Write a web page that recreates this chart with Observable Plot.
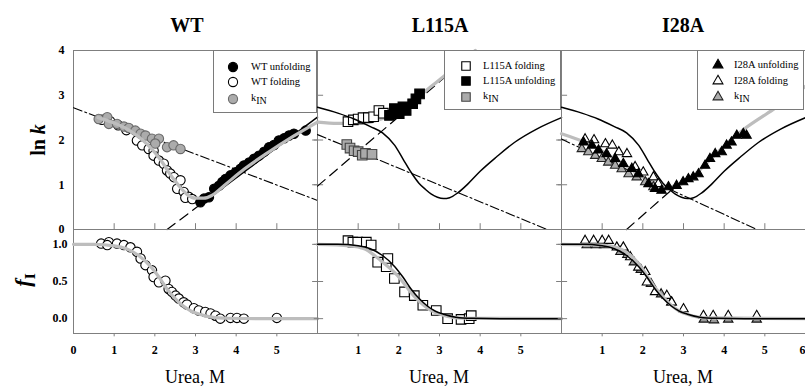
<!DOCTYPE html>
<html><head><meta charset="utf-8">
<script src="https://cdn.jsdelivr.net/npm/d3@7"></script>
<script src="https://cdn.jsdelivr.net/npm/@observablehq/plot@0.6"></script>
<style>
body{margin:0;background:#fff;}
#chart{position:relative;width:805px;height:386px;overflow:hidden;font-family:"Liberation Serif","Times New Roman",serif;color:#000;}
#chart svg{position:absolute;left:0;top:0;}
.lbl{position:absolute;transform:translate(-50%,-50%);white-space:nowrap;line-height:1;}
.rot{transform:translate(-50%,-50%) rotate(-90deg);}
.legend{position:absolute;background:#fff;border:1px solid #7a7a7a;box-sizing:border-box;}
.legend .txt{position:absolute;font-size:10.5px;line-height:1;transform:translateY(-50%);white-space:nowrap;}
.legend svg{position:absolute;overflow:visible;}
</style></head><body><div id="chart"></div>
<script>
// ---------------- data ----------------
const xTicksAll = [0, 1, 2, 3, 4, 5, 6];
const lnkTicks = [0, 1, 2, 3, 4];
const fiTicks = [0, 0.5, 1];
const panelTitles = ["WT", "L115A", "I28A"];

// WT (panel 1)
const wtUnfU   = [3.12,3.21,3.33,3.46,3.58,3.66,3.74,3.86,3.99,4.11,4.19,4.32,4.44,4.56,4.69,4.81,4.93,5.05,5.18,5.30,5.42,5.71];
const wtUnfLnk = [0.61,0.69,0.72,0.91,0.98,1.06,1.13,1.21,1.28,1.36,1.43,1.50,1.58,1.65,1.74,1.84,1.89,1.99,2.04,2.10,2.14,2.21];
const wtFoldU   = [0.70,0.90,1.10,1.30,1.56,1.69,1.85,1.97,1.97,2.10,2.22,2.30,2.38,2.47,2.63,2.55,2.71,2.83,2.75,2.92];
const wtFoldLnk = [2.45,2.42,2.33,2.22,1.99,1.88,1.80,1.76,1.65,1.54,1.47,1.32,1.25,1.17,1.10,0.91,0.84,0.73,0.71,0.68];
const wtKinU   = [0.62,0.83,0.87,1.07,1.24,1.36,1.52,1.65,1.77,1.93,2.10,2.01,2.30,2.46,2.63];
const wtKinLnk = [2.47,2.51,2.36,2.36,2.30,2.27,2.21,2.14,2.10,2.03,2.03,1.92,1.84,1.88,1.80];
const wtKinLineU = [0, 6], wtKinLineLnk = [2.72, 0.65];
const wtArmU = [2.3, 3.3, 6.0], wtArmLnk = [0, 0.68, 2.51];
const wtGrayU   = [0.6,1.0,1.4,1.7,2.0,2.2,2.4,2.6,2.8,3.0,3.2,3.4,3.7,4.2,4.8,5.4,6.0];
const wtGrayLnk = [2.5,2.38,2.2,2.0,1.72,1.48,1.2,0.97,0.78,0.70,0.70,0.76,0.98,1.35,1.73,2.08,2.40];
const wtFitU   = [0,0.5,0.9,1.3,1.6,1.9,2.1,2.3,2.5,2.65,2.8,2.95,3.1,3.25,3.45,3.7,4.0,4.4,4.85,5.4,6.0];
const wtFitLnk = [2.73,2.6,2.47,2.3,2.16,1.88,1.58,1.28,1.03,0.9,0.79,0.72,0.69,0.71,0.82,1.02,1.30,1.62,1.95,2.25,2.5];
const wtFiU   = [0.68,0.87,0.83,1.07,1.24,1.40,1.56,1.65,1.77,1.93,1.97,2.10,2.26,2.34,2.42,2.51,2.59,2.71,2.79,2.96,3.08,3.24,3.37,3.49,3.61,3.86,4.02,4.19,5.00];
const wtFiVal = [1.01,1.03,0.99,1.01,0.99,0.96,0.90,0.81,0.72,0.65,0.56,0.49,0.51,0.40,0.36,0.31,0.27,0.22,0.19,0.14,0.11,0.09,0.07,0.04,0.00,0.01,0.01,0.00,0.01];
const wtFCurveU = [0,0.5,1.0,1.3,1.6,1.9,2.1,2.3,2.5,2.7,2.9,3.1,3.4,3.8,4.5,6];
const wtFCurveF = [1.0,1.0,0.98,0.94,0.85,0.70,0.56,0.40,0.27,0.17,0.10,0.06,0.02,0.005,0,0];

// L115A (panel 2)
const lFoldU   = [0.75,0.88,1.0,1.12,1.25,1.38,1.51,1.62];
const lFoldLnk = [2.41,2.45,2.47,2.50,2.50,2.52,2.66,2.60];
const lUnfU   = [1.77,1.89,2.01,2.10,2.18,2.34,2.42,2.51];
const lUnfLnk = [2.55,2.70,2.59,2.74,2.66,2.81,2.92,3.03];
const lKinU   = [0.72,0.80,0.90,1.00,1.10,1.18,1.34];
const lKinLnk = [1.90,1.82,1.76,1.74,1.66,1.70,1.68];
const lKinLineU = [0, 5.65], lKinLineLnk = [2.12, 0];
const lArmU = [0, 3.9], lArmLnk = [0.97, 4.0];
const lFitU   = [0,0.5,1.0,1.3,1.6,1.9,2.2,2.5,2.8,3.1,3.5,3.88];
const lFitLnk = [2.40,2.37,2.37,2.40,2.48,2.58,2.76,2.98,3.2,3.42,3.71,4.0];
const lFiU   = [0.75,0.87,0.99,1.20,1.32,1.48,1.69,1.73,1.89,2.14,2.38,2.59,2.92,3.20,3.53,3.73,3.78];
const lFiVal = [1.05,1.03,1.03,1.03,0.99,0.76,0.70,0.81,0.54,0.36,0.31,0.18,0.11,0.0,-0.01,0.0,0.04];
const lFCurveU = [0,0.8,1.15,1.56,1.97,2.38,2.79,3.2,3.6,6];
const lFCurveF = [1.0,0.98,0.94,0.78,0.58,0.30,0.11,0.03,0.005,0];

// I28A (panel 3)
const iUnfU   = [0.54,0.75,0.91,1.11,1.32,1.52,1.73,1.89,2.14,2.30,2.46,2.63,2.83,2.99,3.12,3.24,3.37,3.53,3.65,3.78,3.94,4.06,4.18,4.31,4.47,4.55];
const iUnfLnk = [1.95,1.88,1.77,1.69,1.58,1.47,1.36,1.24,1.02,0.91,0.87,0.95,0.98,1.06,1.13,1.17,1.24,1.43,1.58,1.69,1.73,1.88,1.95,2.10,2.14,2.10];
const iFoldU   = [0.58,0.80,1.08,1.25,1.41,1.61,1.81,2.01,2.26,2.38];
const iFoldLnk = [2.02,2.0,1.91,1.88,1.73,1.69,1.40,1.28,1.17,1.02];
const iKinU   = [0.50,0.66,0.83,0.99,1.15,1.32,1.48,1.65,1.85,2.06,2.26];
const iKinLnk = [1.80,1.73,1.65,1.58,1.50,1.43,1.35,1.24,1.17,1.06,0.95];
const iKinLineU = [0, 4.8], iKinLineLnk = [2.02, 0];
const iArmU = [1.6, 2.7], iArmLnk = [0, 0.88];
const iFitU   = [0,0.75,1.55,2.2,2.55,2.85,3.1,3.4,3.7,4.0,4.5,5.2,6.0];
const iFitLnk = [2.14,1.88,1.44,1.07,0.95,0.98,1.1,1.33,1.6,1.87,2.25,2.68,3.2];
const iFiU   = [0.58,0.79,1.0,1.16,1.36,1.52,1.69,1.89,2.06,2.10,2.30,2.59,2.71,3.0,3.49,3.73,4.10,4.80];
const iFiVal = [1.05,1.05,1.05,1.05,0.96,0.96,0.83,0.69,0.63,0.49,0.36,0.31,0.22,0.13,0.04,0.04,0.04,0.04];
const iFi2U   = [0.62,0.85,1.05,1.45,1.62,1.78,1.95,2.2,2.45,2.7,3.5,3.75,4.1,4.8];
const iFi2Val = [0.99,0.99,0.99,0.90,0.86,0.76,0.66,0.47,0.33,0.22,-0.01,-0.02,-0.01,-0.01];
const iFCurveU = [0,1.0,1.4,1.7,1.9,2.1,2.3,2.5,2.7,2.9,3.2,3.6,6];
const iFCurveF = [1,0.99,0.95,0.85,0.74,0.58,0.42,0.29,0.18,0.10,0.04,0.01,0];

// ---------------- layout ----------------
const W = 805, H = 386;
const colX = [[73, 317], [317, 561], [561, 805]];
const rowY = [[50, 229], [229, 333]];
const FRAME = "#7f7f7f", GRAYLINE = "#bdbdbd", GRAYFILL = "#ababab";
const pts = (us, vs) => us.map((u, i) => ({u, v: vs[i]}));

function panel(col, row, marks) {
  const [x0, x1] = colX[col], [y0, y1] = rowY[row];
  return Plot.plot({
    width: W, height: H,
    marginLeft: x0, marginRight: W - x1, marginTop: y0, marginBottom: H - y1,
    x: {domain: [0, 6], axis: null},
    y: {domain: row === 0 ? [0, 4] : [-0.2, 1.2], axis: null},
    style: {background: "transparent", overflow: "visible", fontFamily: "Liberation Serif, serif", fontSize: "12px", color: "#000"},
    marks: [Plot.frame({stroke: FRAME}), ...marks]
  });
}
const line = (us, vs, o) => Plot.line(pts(us, vs), {x: "u", y: "v", curve: "monotone-x", ...o});
const dots = (us, vs, o) => Plot.dot(pts(us, vs), {x: "u", y: "v", strokeWidth: 1.1, ...o});
const blackLine = {stroke: "#000", strokeWidth: 1.5};
const grayLine = {stroke: GRAYLINE, strokeWidth: 3.2};
const dashDot = {stroke: "#000", strokeWidth: 1.1, strokeDasharray: "9,3,2,3", curve: "linear"};
const dashed = {stroke: "#000", strokeWidth: 1.2, strokeDasharray: "10,6", curve: "linear"};
const tickCol = {stroke: FRAME};
const upTicks = Plot.ruleX(xTicksAll.slice(1, 6), {y1: 0, y2: 0.13, ...tickCol});
const rightTicksTop = Plot.ruleY(lnkTicks.slice(1, 4), {x1: 5.88, x2: 6, ...tickCol});
const leftTicksTop = Plot.ruleY(lnkTicks.slice(1, 4), {x1: -0.08, x2: 0.15, ...tickCol});
const rightTicksBot = Plot.ruleY(fiTicks, {x1: 5.88, x2: 6, ...tickCol});
const leftTicksBot = Plot.ruleY(fiTicks, {x1: -0.08, x2: 0.15, ...tickCol});
const downTicks = (t) => Plot.ruleX(t, {y1: -0.2, y2: -0.245, ...tickCol});
const xLabels = (t, o = {}) => Plot.axisX(t, {anchor: "bottom", tickSize: 0, tickPadding: 12, fontWeight: "bold", fontSize: 12, label: null, ...o});

const chart = document.getElementById("chart");
const plots = [
  // top row
  panel(0, 0, [
    Plot.axisY(lnkTicks, {anchor: "left", tickSize: 0, tickPadding: 9, fontWeight: "bold", fontSize: 12, label: null}),
    rightTicksTop, upTicks,
    line(wtKinLineU, wtKinLineLnk, dashDot),
    line(wtArmU.slice(0, 2), wtArmLnk.slice(0, 2), dashed),
    line(wtArmU.slice(1), wtArmLnk.slice(1), {...blackLine, curve: "linear"}),
    dots(wtFoldU, wtFoldLnk, {r: 4.7, fill: "#fff", stroke: "#000"}),
    dots(wtUnfU, wtUnfLnk, {r: 4.7, fill: "#000", stroke: "#000"}),
    dots(wtKinU, wtKinLnk, {r: 4.7, fill: GRAYFILL, stroke: "#6a6a6a"}),
    line(wtGrayU, wtGrayLnk, grayLine)
  ]),
  panel(1, 0, [
    leftTicksTop, rightTicksTop, upTicks,
    line(lKinLineU, lKinLineLnk, dashDot),
    line(lArmU, lArmLnk, dashed),
    line(lFitU, lFitLnk, grayLine),
    dots(lKinU, lKinLnk, {symbol: "square", r: 5.4, fill: GRAYFILL, stroke: "#444"}),
    dots(lFoldU, lFoldLnk, {symbol: "square", r: 5.4, fill: "#fff", stroke: "#000"}),
    dots(lUnfU, lUnfLnk, {symbol: "square", r: 5.4, fill: "#000", stroke: "#000"}),
    line(wtFitU, wtFitLnk, blackLine)
  ]),
  panel(2, 0, [
    leftTicksTop, upTicks,
    line(iKinLineU, iKinLineLnk, dashDot),
    line(iArmU, iArmLnk, dashed),
    line(iFitU, iFitLnk, grayLine),
    dots(iKinU, iKinLnk, {symbol: "triangle", r: 3.5, fill: GRAYFILL, stroke: "#222"}),
    dots(iFoldU, iFoldLnk, {symbol: "triangle", r: 3.5, fill: "#fff", stroke: "#000"}),
    dots(iUnfU, iUnfLnk, {symbol: "triangle", r: 3.5, fill: "#000", stroke: "#000"}),
    line(wtFitU, wtFitLnk, blackLine)
  ]),
  // bottom row
  panel(0, 1, [
    Plot.axisY(fiTicks, {anchor: "left", tickSize: 0, tickPadding: 6, fontWeight: "bold", fontSize: 12, label: null, tickFormat: d3.format(".1f")}),
    rightTicksBot, downTicks(xTicksAll.slice(1, 6)), xLabels(xTicksAll.slice(0, 6)),
    dots(wtFiU, wtFiVal, {r: 4.7, fill: "#fff", stroke: "#000"}),
    line(wtFCurveU, wtFCurveF, grayLine)
  ]),
  panel(1, 1, [
    leftTicksBot, rightTicksBot, downTicks(xTicksAll.slice(1, 6)), xLabels(xTicksAll.slice(1, 6)),
    dots(lFiU, lFiVal, {symbol: "square", r: 5.4, fill: "#fff", stroke: "#000"}),
    line(lFCurveU, lFCurveF, grayLine),
    line(wtFCurveU, wtFCurveF, blackLine)
  ]),
  panel(2, 1, [
    leftTicksBot, downTicks(xTicksAll.slice(1, 6)), xLabels(xTicksAll.slice(1, 6)),
    xLabels(xTicksAll.slice(6), {textAnchor: "end", dx: 0}),
    dots(iFi2U, iFi2Val, {symbol: "triangle", r: 3.5, fill: "#999", stroke: "#111"}),
    dots(iFiU, iFiVal, {symbol: "triangle", r: 3.5, fill: "#fff", stroke: "#000"}),
    line(iFCurveU, iFCurveF, grayLine),
    line(wtFCurveU, wtFCurveF, blackLine)
  ])
];
plots.forEach(p => chart.appendChild(p));

// ---------------- text ----------------
function addLabel(html, x, y, css, extraClass) {
  const d = document.createElement("div");
  d.className = "lbl" + (extraClass ? " " + extraClass : "");
  d.innerHTML = html;
  d.style.left = x + "px"; d.style.top = y + "px";
  Object.assign(d.style, css);
  chart.appendChild(d);
}
const titleX = [187, 440, 683];
panelTitles.forEach((t, i) => addLabel(t, titleX[i], 25, {fontSize: "20px", fontWeight: "bold"}));
const ureaX = [195, 439, 683];
ureaX.forEach(x => addLabel("Urea, M", x, 377, {fontSize: "18px"}));
addLabel('ln <i>k</i>', 38, 140, {fontSize: "20px", fontWeight: "bold"}, "rot");
addLabel('<i>f</i><sub style="font-size:0.7em;font-style:normal;vertical-align:-0.3em">I</sub>', 25, 280, {fontSize: "22px", fontWeight: "bold"}, "rot");

// ---------------- legends ----------------
const legendWT = [
  {label: "WT unfolding", sym: d3.symbolCircle, size: 66, fill: "#000", stroke: "#000"},
  {label: "WT folding", sym: d3.symbolCircle, size: 66, fill: "#fff", stroke: "#000"},
  {label: "k<sub>IN</sub>", sym: d3.symbolCircle, size: 66, fill: GRAYFILL, stroke: "#6a6a6a"}
];
const legendL = [
  {label: "L115A folding", sym: d3.symbolSquare, size: 72, fill: "#fff", stroke: "#000"},
  {label: "L115A unfolding", sym: d3.symbolSquare, size: 72, fill: "#000", stroke: "#000"},
  {label: "k<sub>IN</sub>", sym: d3.symbolSquare, size: 72, fill: GRAYFILL, stroke: "#444"}
];
const legendI = [
  {label: "I28A unfolding", sym: d3.symbolTriangle, size: 42, fill: "#000", stroke: "#000"},
  {label: "I28A folding", sym: d3.symbolTriangle, size: 42, fill: "#fff", stroke: "#000"},
  {label: "k<sub>IN</sub>", sym: d3.symbolTriangle, size: 42, fill: GRAYFILL, stroke: "#222"}
];
function legend(items, box, markX, textX, rows) {
  const b = document.createElement("div");
  b.className = "legend";
  Object.assign(b.style, {left: box[0] + "px", top: box[1] + "px", width: box[2] + "px", height: box[3] + "px"});
  items.forEach((it, i) => {
    const s = document.createElementNS("http://www.w3.org/2000/svg", "svg");
    s.setAttribute("width", 1); s.setAttribute("height", 1);
    s.style.left = markX + "px"; s.style.top = rows[i] + "px";
    const p = document.createElementNS("http://www.w3.org/2000/svg", "path");
    p.setAttribute("d", d3.symbol(it.sym, it.size)());
    p.setAttribute("fill", it.fill); p.setAttribute("stroke", it.stroke); p.setAttribute("stroke-width", 1.1);
    s.appendChild(p); b.appendChild(s);
    const t = document.createElement("div");
    t.className = "txt";
    t.innerHTML = it.label.replace("<sub>", '<sub style="font-size:0.95em;vertical-align:-0.3em">');
    t.style.left = textX + "px"; t.style.top = rows[i] + "px";
    b.appendChild(t);
  });
  chart.appendChild(b);
}
legend(legendWT, [213, 50, 104, 63], 19, 37, [16, 31, 48]);
legend(legendL, [444, 50, 117, 60], 21, 38, [15, 30, 46]);
legend(legendI, [697, 50, 107, 60], 20, 36, [14, 30, 46]);
</script></body></html>
